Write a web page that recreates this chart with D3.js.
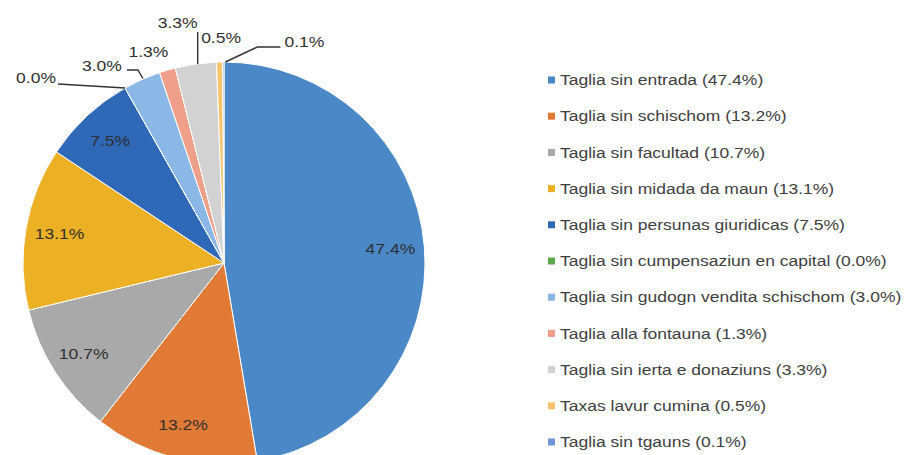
<!DOCTYPE html>
<html>
<head>
<meta charset="utf-8">
<script src="https://cdn.jsdelivr.net/npm/d3@7/dist/d3.min.js"></script>
<style>
  body { margin: 0; background: #fff; }
  text { font-family: Arial, "Liberation Sans", sans-serif; fill: #404040; }
</style>
</head>
<body>
<div id="chart"></div>
<script>
(function(d3) {
    'use strict';

    // data
    var categories = [
      'Taglia sin entrada',
      'Taglia sin schischom',
      'Taglia sin facultad',
      'Taglia sin midada da maun',
      'Taglia sin persunas giuridicas',
      'Taglia sin cumpensaziun en capital',
      'Taglia sin gudogn vendita schischom',
      'Taglia alla fontauna',
      'Taglia sin ierta e donaziuns',
      'Taxas lavur cumina',
      'Taglia sin tgauns'
    ];
    var shares = [47.4, 13.2, 10.7, 13.1, 7.5, 0.0, 3.0, 1.3, 3.3, 0.5, 0.1];
    var colors = ['#4a88c7', '#e07a35', '#a9a9a9', '#ebb023', '#2e68b7', '#5aa84a',
                  '#8bb7e6', '#ee9f89', '#d2d2d2', '#f6c46e', '#6f96d8'];

    var width = 906;
    var height = 455;
    var cx = 224, cy = 263;
    var radius = 201;
    var labelRadius = 167;
    var legendX = 548, legendY = 80, legendStep = 36.2, legendRectSize = 7;
    var fontSize = '15.5px';
    var stretch = 1.13; // the source text is a little wider than Arial

    // outside labels: text offset and leader line points, relative to the slice's outer mid point
    var outside = {
      5: { text: [-89, -10], line: [[-67, -4], [0, 0]] },
      6: { text: [-40, -14], line: [[-15, -9.5], [-4, -9.5], [1, -1]] },
      7: { text: [-19, -18], line: null },
      8: { text: [-18, -41], line: [[2, -32], [2, 0]] },
      9: { text: [1.5, -24], line: null },
      10: { text: [81, -20], line: [[57, -15], [34, -15], [2, 0]] }
    };

    var fmt = function(v) { return v.toFixed(1) + '%'; };

    var svg = d3.select('#chart')
      .append('svg')
      .attr('width', width)
      .attr('height', height);

    var g = svg.append('g')
      .attr('transform', 'translate(' + cx + ',' + cy + ')');

    var pie = d3.pie()
      .value(function(d) { return d; })
      .sort(null);

    var arc = d3.arc().innerRadius(0).outerRadius(radius);
    var labelArc = d3.arc().innerRadius(labelRadius).outerRadius(labelRadius);
    var edgeArc = d3.arc().innerRadius(radius).outerRadius(radius);

    var arcs = pie(shares);

    g.selectAll('path.slice')
      .data(arcs)
      .enter()
      .append('path')
      .attr('class', 'slice')
      .attr('d', arc)
      .attr('fill', function(d, i) { return colors[i]; })
      .attr('stroke', '#fff')
      .attr('stroke-width', 1);

    // inside labels
    g.selectAll('text.inner')
      .data(arcs.filter(function(d) { return !(d.index in outside); }))
      .enter()
      .append('text')
      .attr('class', 'inner')
      .attr('transform', function(d) {
        return 'translate(' + labelArc.centroid(d) + ') scale(' + stretch + ',1)';
      })
      .attr('text-anchor', 'middle')
      .attr('dominant-baseline', 'central')
      .style('font-size', fontSize)
      .style('fill', '#303030')
      .text(function(d) { return fmt(d.data); });

    // outside labels with leader lines
    var outer = arcs.filter(function(d) { return d.index in outside; });

    g.selectAll('path.leader')
      .data(outer.filter(function(d) { return outside[d.index].line; }))
      .enter()
      .append('path')
      .attr('class', 'leader')
      .attr('fill', 'none')
      .attr('stroke', '#333')
      .attr('stroke-width', 1.4)
      .attr('d', function(d) {
        var p = edgeArc.centroid(d);
        return d3.line()(outside[d.index].line.map(function(o) {
          return [p[0] + o[0], p[1] + o[1]];
        }));
      });

    g.selectAll('text.outer')
      .data(outer)
      .enter()
      .append('text')
      .attr('class', 'outer')
      .attr('transform', function(d) {
        var p = edgeArc.centroid(d);
        var o = outside[d.index].text;
        return 'translate(' + (p[0] + o[0]) + ',' + (p[1] + o[1]) + ') scale(' + stretch + ',1)';
      })
      .attr('text-anchor', 'middle')
      .attr('dominant-baseline', 'central')
      .style('font-size', fontSize)
      .style('fill', '#303030')
      .text(function(d) { return fmt(d.data); });

    // legend
    var legend = svg.selectAll('.legend')
      .data(categories)
      .enter()
      .append('g')
      .attr('class', 'legend')
      .attr('transform', function(d, i) {
        return 'translate(' + legendX + ',' + (legendY + i * legendStep) + ')';
      });

    legend.append('rect')
      .attr('x', 0)
      .attr('y', -legendRectSize / 2)
      .attr('width', legendRectSize)
      .attr('height', legendRectSize)
      .style('fill', function(d, i) { return colors[i]; });

    legend.append('text')
      .attr('transform', 'translate(12,0) scale(' + stretch + ',1)')
      .attr('dominant-baseline', 'central')
      .style('font-size', fontSize)
      .text(function(d, i) { return d + ' (' + fmt(shares[i]) + ')'; });

})(window.d3);
</script>
</body>
</html>
